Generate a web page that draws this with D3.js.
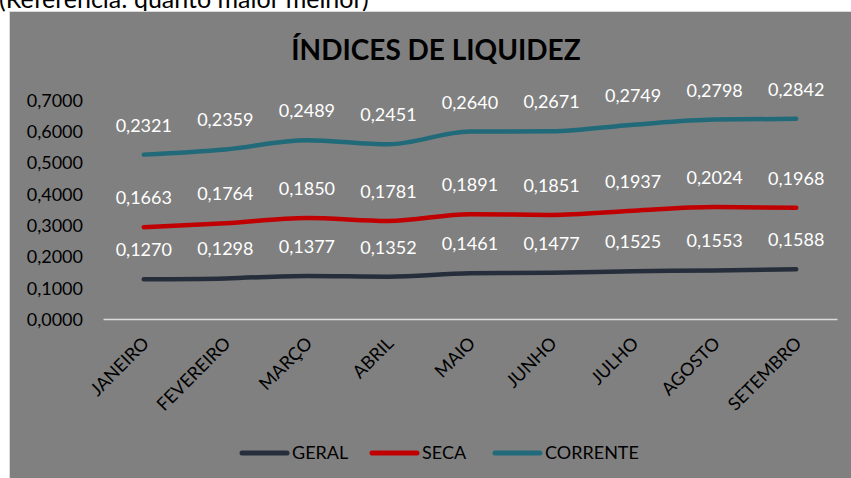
<!DOCTYPE html>
<html><head><meta charset="utf-8">
<script src="https://cdn.jsdelivr.net/npm/d3@7"></script>
<style>html,body{margin:0;padding:0;background:#fff;overflow:hidden}svg{display:block}</style>
</head><body>
<svg id="chart" width="851" height="478"></svg>
<script>
const categories = ["JANEIRO","FEVEREIRO","MARÇO","ABRIL","MAIO","JUNHO","JULHO","AGOSTO","SETEMBRO"];
const seriesNames = ["GERAL","SECA","CORRENTE"];
const geral = [0.1270,0.1298,0.1377,0.1352,0.1461,0.1477,0.1525,0.1553,0.1588];
const seca = [0.1663,0.1764,0.1850,0.1781,0.1891,0.1851,0.1937,0.2024,0.1968];
const corrente = [0.2321,0.2359,0.2489,0.2451,0.2640,0.2671,0.2749,0.2798,0.2842];
const yTicks = [0,0.1,0.2,0.3,0.4,0.5,0.6,0.7];
const colors = ["#262e3b","#c00000","#216a79"];
const title = "ÍNDICES DE LIQUIDEZ";
const note = "(Referência: quanto maior melhor)";

const svg = d3.select("#chart");
const font = "Lato, 'Open Sans', sans-serif";

// note text at the top (partially hidden, as in the reference)
svg.append("text").attr("x",-1).attr("y",8).attr("font-family",font).attr("font-size",25)
  .attr("fill","#000").text(note);

// chart background
svg.append("rect").attr("x",9.5).attr("y",11.5).attr("width",860).attr("height",480)
  .attr("fill","#808080").attr("stroke","#d9d9d9").attr("stroke-width",1);

const x = d3.scaleBand().domain(categories).range([103,837]);
const y = d3.scaleLinear().domain([0,0.7]).range([319,100]);

// title
svg.append("text").attr("x",436).attr("y",60).attr("text-anchor","middle")
  .attr("font-family",font).attr("font-weight","bold").attr("font-size",28).attr("fill","#000").text(title);

// y axis (labels only)
const yAxis = d3.axisLeft(y).tickValues(yTicks).tickSize(0).tickPadding(0)
  .tickFormat(d => d3.format(".4f")(d).replace(".",","));
const gy = svg.append("g").attr("transform","translate(83,0)").call(yAxis);
gy.select(".domain").remove();
gy.selectAll("text").attr("font-family",font).attr("font-size",18).attr("fill","#000").attr("dy","0.35em");

// x axis
const xAxis = d3.axisBottom(x).tickSize(0).tickPadding(0);
const gx = svg.append("g").attr("transform","translate(0,319)").call(xAxis);
gx.select(".domain").attr("stroke","#d9d9d9").attr("stroke-width",1.5);
gx.selectAll("text").attr("font-family",font).attr("font-size",18).attr("fill","#000")
  .attr("text-anchor","end").attr("dy","0.35em")
  .attr("transform","translate(2,21) rotate(-45)").attr("y",0).attr("x",0);

// stacked data
const rows = categories.map((c,i)=>({cat:c, GERAL:geral[i], SECA:seca[i], CORRENTE:corrente[i]}));
const stacked = d3.stack().keys(seriesNames)(rows);

const line = d3.line().x(d=>x(d.data.cat)+x.bandwidth()/2).y(d=>y(d[1])).curve(d3.curveMonotoneX);

stacked.forEach((s,k)=>{
  svg.append("path").datum(s).attr("d",line).attr("fill","none")
    .attr("stroke",colors[k]).attr("stroke-width",4.5).attr("stroke-linecap","round").attr("stroke-linejoin","round");
  svg.append("g").selectAll("text").data(s).join("text")
    .attr("x",d=>x(d.data.cat)+x.bandwidth()/2).attr("y",d=>y(d[1])-23)
    .attr("text-anchor","middle").attr("font-family",font).attr("font-size",18).attr("fill","#fff")
    .text(d=>d3.format(".4f")(d[1]-d[0]).replace(".",","));
});

// legend
const legendX = [240,370,493];
seriesNames.forEach((n,k)=>{
  const g = svg.append("g").attr("transform",`translate(${legendX[k]},453)`);
  g.append("line").attr("x1",2).attr("x2",47).attr("y1",0).attr("y2",0)
    .attr("stroke",colors[k]).attr("stroke-width",5).attr("stroke-linecap","round");
  g.append("text").attr("x",52).attr("y",0).attr("dy","0.35em").attr("font-family",font)
    .attr("font-size",18).attr("fill","#000").text(n);
});
</script>
</body></html>
